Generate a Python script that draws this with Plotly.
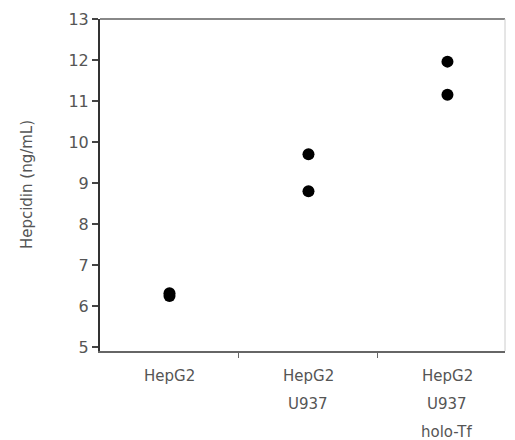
import plotly.graph_objects as go

categories = ["HepG2", "HepG2<br>U937", "HepG2<br>U937<br>holo-Tf"]
label_lines = [["HepG2"], ["HepG2", "U937"], ["HepG2", "U937", "holo-Tf"]]
group_index = [0, 0, 1, 1, 2, 2]
hepcidin = [6.31, 6.24, 9.70, 8.80, 11.96, 11.15]
y_ticks = [5, 6, 7, 8, 9, 10, 11, 12, 13]
y_title = "Hepcidin (ng/mL)"

FONT = "DejaVu Sans"
TXT = "#555555"

fig = go.Figure()
fig.add_trace(go.Scatter(
    x=group_index, y=hepcidin, mode="markers",
    marker=dict(color="black", size=12),
    showlegend=False, hoverinfo="skip",
))

annotations = []
row_shift = [-25, -53, -81]
for i, lines in enumerate(label_lines):
    for j, t in enumerate(lines):
        annotations.append(dict(
            x=i, xref="x", y=0, yref="paper", yshift=row_shift[j],
            text=t, showarrow=False, xanchor="center", yanchor="middle",
            font=dict(family=FONT, size=15, color=TXT),
        ))
annotations.append(dict(
    x=-0.18, xref="paper", y=0.5, yref="paper", text=y_title,
    textangle=-90, showarrow=False, xanchor="center", yanchor="middle",
    font=dict(family=FONT, size=15, color=TXT),
))

fig.update_layout(
    width=515, height=440,
    margin=dict(l=100, r=10, t=19, b=89),
    paper_bgcolor="white", plot_bgcolor="white",
    annotations=annotations,
    xaxis=dict(
        range=[-0.5, 2.414], tickvals=[0.5, 1.5], ticktext=["", ""],
        ticks="outside", ticklen=5, tickcolor="#666", tickwidth=1,
        showline=True, linecolor="#666", linewidth=2,
        showgrid=False, zeroline=False, fixedrange=True,
    ),
    yaxis=dict(
        range=[4.9, 13.0], tickvals=y_ticks,
        ticks="outside", ticklen=6, tickcolor="#444", tickwidth=1.5,
        tickfont=dict(family=FONT, size=16, color=TXT),
        showline=True, linecolor="#333", linewidth=2,
        showgrid=False, zeroline=False, fixedrange=True,
    ),
    shapes=[
        dict(type="line", xref="paper", yref="paper", x0=0, x1=1, y0=1, y1=1,
             line=dict(color="#888", width=2)),
        dict(type="line", xref="paper", yref="paper", x0=1, x1=1, y0=0, y1=1,
             line=dict(color="#ccc", width=1)),
    ],
)

fig.write_html("out.html")
